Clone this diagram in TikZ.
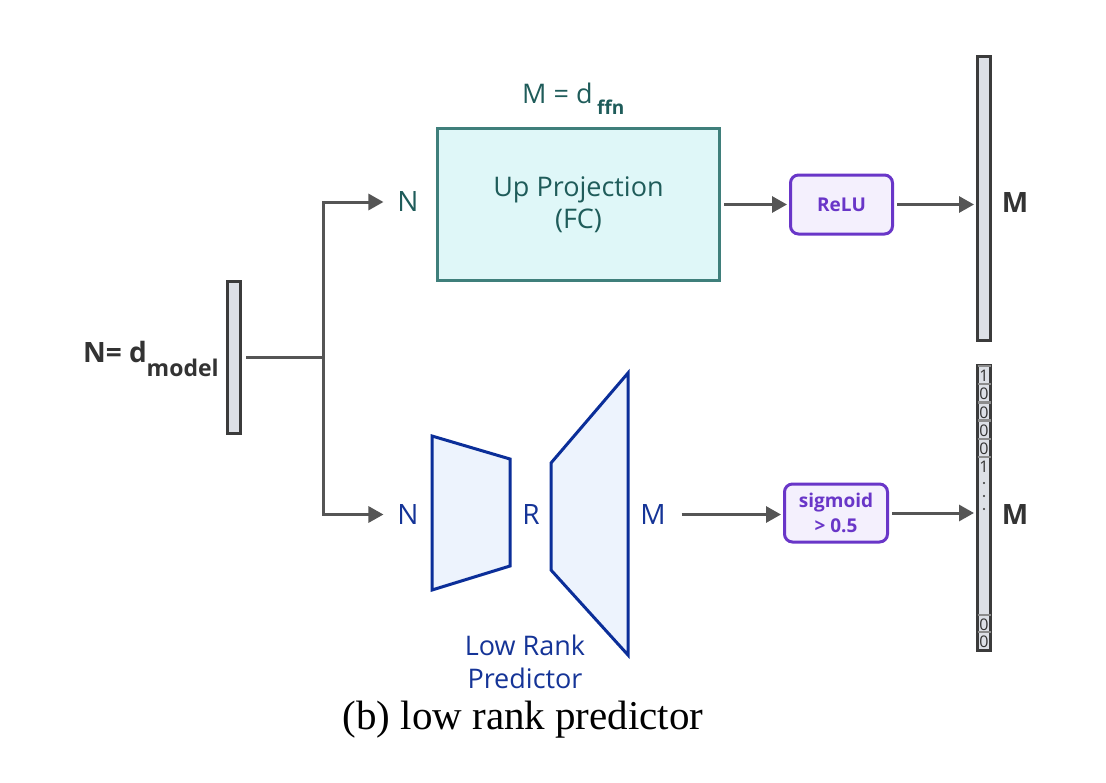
\documentclass[tikz,border=0pt]{standalone}
\usepackage{fontspec}
\setmainfont{Open Sans}
\newfontfamily\capfont{Liberation Serif}
\usetikzlibrary{arrows.meta}

\definecolor{tealline}{HTML}{3F7F7B}
\definecolor{tealfill}{HTML}{DFF7F8}
\definecolor{tealtext}{HTML}{1F5C5A}
\definecolor{bluline}{HTML}{0B2E99}
\definecolor{blufill}{HTML}{EDF3FD}
\definecolor{blutext}{HTML}{153497}
\definecolor{purline}{HTML}{6936C8}
\definecolor{purfill}{HTML}{F4F0FD}
\definecolor{greyline}{HTML}{555555}
\definecolor{vecfill}{HTML}{DDE0E6}
\definecolor{vecline}{HTML}{3B3B3B}
\definecolor{cellline}{HTML}{8C8C8C}
\definecolor{darktext}{HTML}{333333}

\tikzset{
  wire/.style={greyline, line width=3pt},
  arr/.style={wire, -{Triangle[length=15pt,width=16pt]}, shorten <=3pt, shorten >=2pt},
  vec/.style={draw=vecline, fill=vecfill, line width=3pt, minimum width=13pt, inner sep=0pt},
  act/.style={draw=purline, fill=purfill, text=purline, line width=3pt, rounded corners=8pt,
    font=\fontsize{19}{25}\selectfont\bfseries, align=center, inner sep=0pt},
  lbl/.style={inner sep=0pt, outer sep=12pt, font=\fontsize{28}{32}\selectfont},
  trap/.style={draw=bluline, fill=blufill, line width=3pt, line join=miter},
  bit/.style={inner sep=0pt, text=darktext, font=\fontsize{16}{16}\selectfont},
}

\begin{document}
\begin{tikzpicture}[x=1pt,y=-1pt]
\useasboundingbox[fill=white] (0,0) rectangle (1106,782);

\node[vec, minimum height=152pt] (vin) at (234,357.5) {};
\node[lbl, anchor=base west, outer sep=0pt, text=darktext, font=\fontsize{28}{32}\selectfont\bfseries]
  (dmodel) at (83,362) {N= d\raisebox{-14pt}{\fontsize{23}{23}\selectfont model}};
\coordinate (split) at (323,357.5);

\node[lbl, text=tealtext] (nup) at (408,202) {N};
\node[lbl, text=blutext] (nlow) at (408,514.5) {N};

\node[draw=tealline, fill=tealfill, line width=3pt, minimum width=282pt, minimum height=152pt,
  text=tealtext, align=center, font=\fontsize{27}{32}\selectfont] (upproj) at (578.5,204.5)
  {Up Projection\\(FC)};
\node[anchor=base west, inner sep=0pt, text=tealtext, font=\fontsize{27}{32}\selectfont]
  (dffn) at (522,103) {M = d\,\raisebox{-11pt}{\fontsize{19}{19}\selectfont\bfseries ffn}};

\node[act, minimum width=102pt, minimum height=59pt] (relu) at (841.5,204.5) {ReLU};
\node[vec, minimum height=284pt] (vtop) at (984,198.5) {};
\node[lbl, text=darktext, font=\fontsize{28}{32}\selectfont\bfseries] (mtop) at (1015,202.5) {M};

\draw[trap] (432,436) -- (510,459) -- (510,566) -- (432,590) -- cycle;
\draw[trap] (551,463) -- (628,373) -- (628,655) -- (551,570) -- cycle;
\node[lbl, text=blutext] (rlab) at (531,514.5) {R};
\node[lbl, text=blutext] (mlow) at (653,514.5) {M};
\node[text=blutext, align=center, inner sep=0pt, font=\fontsize{27}{33}\selectfont]
  (lrp) at (525,662) {Low Rank\\Predictor};

\node[act, minimum width=103pt, minimum height=58pt] (sigm) at (836,513) {sigmoid\\> 0.5};
\node[vec, minimum height=285pt] (vbot) at (984,508) {};
\node[lbl, text=darktext, font=\fontsize{28}{32}\selectfont\bfseries] (mbot) at (1015,514.5) {M};

\foreach \i/\b in {0/1,1/0,2/0,3/0,4/0,5/1} {
  \draw[cellline, line width=2.5pt] (977.5,{366+18.2*\i}) -- (990.5,{366+18.2*\i});
  \node[bit] at (984,{376+18.2*\i}) {\b};
}
\foreach \y in {483,496,509}
  \fill[darktext] (984,\y) circle (1.2pt);
\foreach \y/\b in {615/0,632/0} {
  \draw[cellline, line width=2.5pt] (977.5,\y) -- (990.5,\y);
  \node[bit] at (984,\y+9.5) {\b};
}

\draw[wire, shorten <=4pt] (vin.east) -- (split);
\draw[arr, shorten <=0pt] (split) |- (nup);
\draw[arr, shorten <=0pt] (split) |- (nlow);
\draw[arr] (upproj.east) -- (relu.west);
\draw[arr] (relu) -- (relu -| vtop.west);
\draw[arr, shorten <=4pt] (mlow) -- (mlow -| sigm.west);
\draw[arr] (sigm) -- (sigm -| vbot.west);

\node[anchor=base, inner sep=0pt, font=\capfont\fontsize{41}{41}\selectfont]
  (caption) at (523,729) {(b) low rank predictor};
\end{tikzpicture}
\end{document}
